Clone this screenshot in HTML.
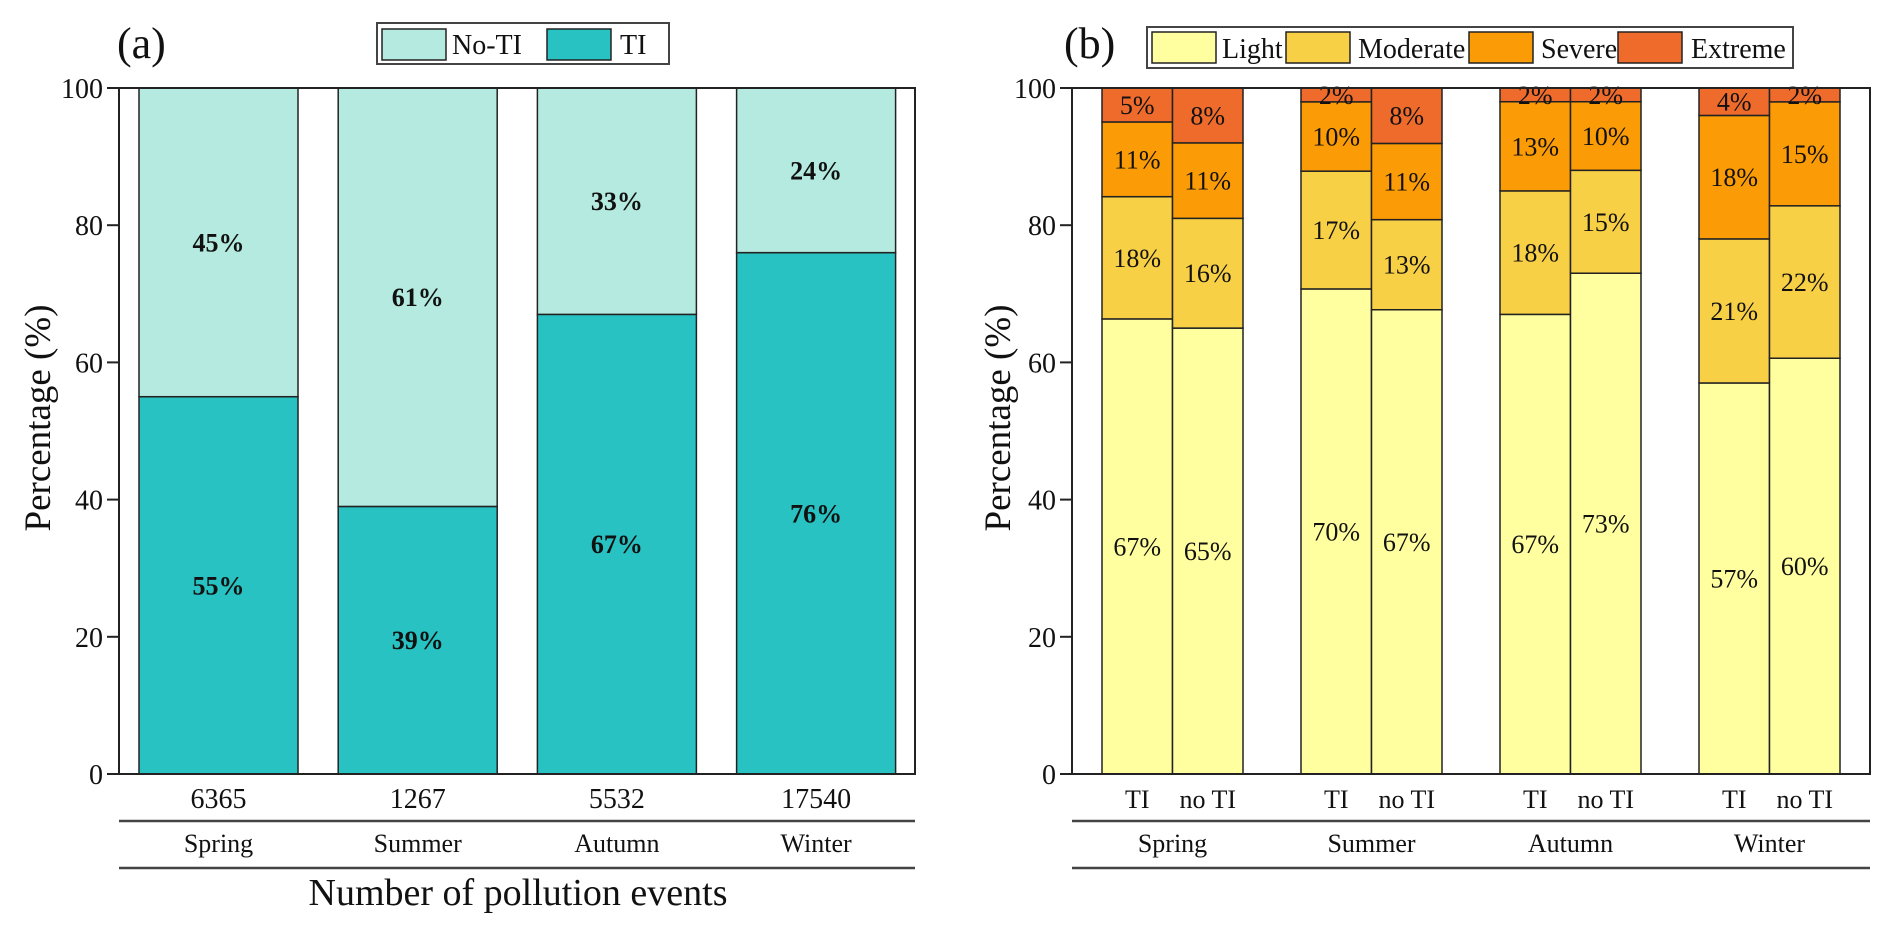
<!DOCTYPE html>
<html><head><meta charset="utf-8"><style>
html,body{margin:0;padding:0;background:#fff;}
svg{display:block;font-family:"Liberation Serif",serif;}
</style></head><body>
<svg id="chart" width="1892" height="934" viewBox="0 0 1892 934" xmlns="http://www.w3.org/2000/svg"></svg>
<script>
// Panel (a) data
const seasons = ["Spring","Summer","Autumn","Winter"];
const eventCounts = ["6365","1267","5532","17540"];
const tiValues = [55,39,67,76];
const noTiValues = [45,61,33,24];
// Panel (b) data (per season: TI, noTI)
const subCats = ["TI","no TI"];
const lightValues = [67,65,70,67,67,73,57,60];
const moderateValues = [18,16,17,13,18,15,21,22];
const severeValues = [11,11,10,11,13,10,18,15];
const extremeValues = [5,8,2,8,2,2,4,2];
const yTicks = [0,20,40,60,80,100];

const NS="http://www.w3.org/2000/svg";
const svg=document.getElementById('chart');
function el(tag,attrs,parent){const e=document.createElementNS(NS,tag);for(const k in attrs)e.setAttribute(k,attrs[k]);(parent||svg).appendChild(e);return e;}
function txt(s,attrs,parent){const t=el('text',attrs,parent);t.textContent=s;return t;}

const Y0=774,Y100=88;
function y(v){return Y0-(v/100)*(Y0-Y100);}

function axes(g,xl,xr,name){
  el('rect',{x:xl,y:Y100,width:xr-xl,height:Y0-Y100,fill:'none',stroke:'#222','stroke-width':2},g);
  yTicks.forEach(t=>{
    const tk=el('line',{x1:xl-12,x2:xl,y1:y(t),y2:y(t),stroke:'#222','stroke-width':2},g);
    
    
    const l=txt(String(t),{x:xl-16,y:y(t)+10,'text-anchor':'end','font-size':28,fill:'#111'},g);
    
    
  });
}

// ---------- Panel A ----------
const gA=el('g',{});


const AXL=119,AXR=915,A_START=139,A_STEP=199.2,A_W=159;
function ax(i){return A_START+i*A_STEP;}
seasons.forEach((s,i)=>{
  const x=ax(i);
  const r1=el('rect',{x:x,y:y(tiValues[i]),width:A_W,height:y(0)-y(tiValues[i]),fill:'#27c2c1',stroke:'#222','stroke-width':1.5},gA);
  
  
  const top=tiValues[i]+noTiValues[i];
  const r2=el('rect',{x:x,y:y(top),width:A_W,height:y(tiValues[i])-y(top),fill:'#b4eadf',stroke:'#222','stroke-width':1.5},gA);
  
  
  const l1=txt(tiValues[i]+'%',{x:x+A_W/2,y:y(tiValues[i]/2)+9,'text-anchor':'middle','font-size':26,'font-weight':'bold',fill:'#111'},gA);
  
  
  const l2=txt(noTiValues[i]+'%',{x:x+A_W/2,y:y(tiValues[i]+noTiValues[i]/2)+9,'text-anchor':'middle','font-size':26,'font-weight':'bold',fill:'#111'},gA);
  
  
  const c=txt(eventCounts[i],{x:x+A_W/2,y:808,'text-anchor':'middle','font-size':28,fill:'#111'},gA);
  
  
  const sl=txt(s,{x:x+A_W/2,y:852,'text-anchor':'middle','font-size':26,fill:'#111'},gA);
  
  
});
axes(gA,AXL,AXR,'a');
el('line',{x1:AXL,x2:AXR,y1:821,y2:821,stroke:'#444','stroke-width':2.5},gA);
el('line',{x1:AXL,x2:AXR,y1:868,y2:868,stroke:'#444','stroke-width':2.5},gA);
let t=txt('Number of pollution events',{x:518,y:905,'text-anchor':'middle','font-size':38,fill:'#111'},gA);

t=txt('Percentage (%)',{x:0,y:0,'text-anchor':'middle','font-size':37,fill:'#111',transform:'translate(50,418) rotate(-90)'},gA);

t=txt('(a)',{x:117,y:58,'font-size':44,fill:'#111'},gA);

// legend a
const lgA=el('g',{});

el('rect',{x:377,y:23,width:292,height:41,fill:'#fff',stroke:'#444','stroke-width':2},lgA);
el('rect',{x:382,y:29,width:64,height:31,fill:'#b4eadf',stroke:'#222','stroke-width':1.5},lgA);
t=txt('No-TI',{x:452,y:54,'font-size':28,fill:'#111'},lgA);

el('rect',{x:547,y:29,width:64,height:31,fill:'#27c2c1',stroke:'#222','stroke-width':1.5},lgA);
t=txt('TI',{x:620,y:54,'font-size':28,fill:'#111'},lgA);


// ---------- Panel B ----------
const gB=el('g',{});


const BXL=1072,BXR=1870,B_START=1102,B_STEP=199,B_W=70.5;
function bx(k){const gi=Math.floor(k/2),j=k%2;return B_START+gi*B_STEP+j*B_W;}
const layers=[['light',lightValues,'#ffffa0'],['moderate',moderateValues,'#f8d045'],['severe',severeValues,'#fb9b06'],['extreme',extremeValues,'#ee6b2b']];
for(let k=0;k<8;k++){
  let cum=0;const x=bx(k);
  const total=layers.reduce((a,l)=>a+l[1][k],0);
  layers.forEach(([nm,arr,col])=>{
    const lo=cum/total*100,hi=(cum+arr[k])/total*100;cum+=arr[k];
    const r=el('rect',{x:x,y:y(hi),width:B_W,height:Math.max(0,y(lo)-y(hi)),fill:col,stroke:'#222','stroke-width':1.5},gB);
    
    
    const l=txt(arr[k]+'%',{x:x+B_W/2,y:y((lo+hi)/2)+9,'text-anchor':'middle','font-size':26,fill:'#111'},gB);
    
    
  });
  const s=txt(subCats[k%2],{x:x+B_W/2,y:808,'text-anchor':'middle','font-size':26,fill:'#111'},gB);
  
  
}
seasons.forEach((s,i)=>{
  const sl=txt(s,{x:B_START+i*B_STEP+B_W,y:852,'text-anchor':'middle','font-size':26,fill:'#111'},gB);
  
  
});
axes(gB,BXL,BXR,'b');
el('line',{x1:BXL,x2:BXR,y1:821,y2:821,stroke:'#444','stroke-width':2.5},gB);
el('line',{x1:BXL,x2:BXR,y1:868,y2:868,stroke:'#444','stroke-width':2.5},gB);
t=txt('Percentage (%)',{x:0,y:0,'text-anchor':'middle','font-size':37,fill:'#111',transform:'translate(1010,418) rotate(-90)'},gB);

t=txt('(b)',{x:1064,y:58,'font-size':44,fill:'#111'},gB);

const lgB=el('g',{});

el('rect',{x:1147,y:27,width:646,height:41,fill:'#fff',stroke:'#444','stroke-width':2},lgB);
const legItems=[['Light',1152,1222,'#ffffa0'],['Moderate',1286,1358,'#f8d045'],['Severe',1469,1541,'#fb9b06'],['Extreme',1618,1691,'#ee6b2b']];
legItems.forEach(([n,sx,tx,c])=>{
  el('rect',{x:sx,y:32,width:64,height:31,fill:c,stroke:'#222','stroke-width':1.5},lgB);
  const e=txt(n,{x:tx,y:58,'font-size':28,fill:'#111'},lgB);
  
  
});
</script>
</body></html>
